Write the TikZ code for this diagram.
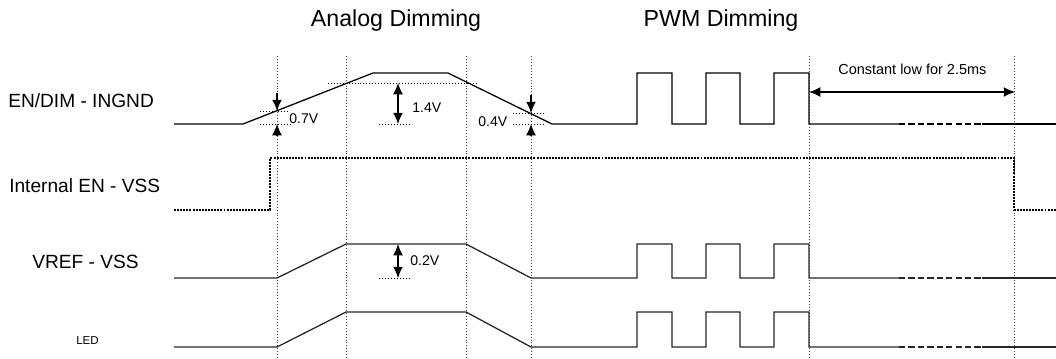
\documentclass[tikz,border=0pt]{standalone}
\usepackage{fontspec}
\setmainfont{Liberation Sans}
\usetikzlibrary{arrows.meta,positioning}

\begin{document}
\begin{tikzpicture}[x=0.025cm,y=-0.025cm,
  sig/.style={line width=0.9pt,line join=miter},
  sigb/.style={sig,black!85},
  gap/.style={line width=0.9pt,dash pattern=on 4.5pt off 2.2pt},
  enline/.style={line width=0.8pt,dash pattern=on 1.4pt off 0.8pt},
  gridline/.style={black!75,line width=0.55pt,dash pattern=on 0.7pt off 1.4pt},
  guide/.style={black,line width=0.55pt,dash pattern=on 0.7pt off 1.4pt},
  dim/.style={line width=0.8pt,-{Latex[length=8pt,width=7pt]}},
  dimboth/.style={line width=0.8pt,{Latex[length=8pt,width=7pt]}-{Latex[length=8pt,width=7pt]}},
  title/.style={font=\fontsize{16.5}{19}\selectfont,anchor=base},
  signame/.style={font=\fontsize{13.6}{16}\selectfont,anchor=base west,inner sep=0pt},
  volt/.style={font=\fontsize{10}{12}\selectfont,anchor=base west,inner sep=0pt}]
  \useasboundingbox (0,0) rectangle (1056,358);

  \node[title] (analog) at (396,26) {Analog Dimming};
  \node[title] (pwm) at (721,26) {PWM Dimming};
  \node[signame] (endim) at (8,107) {EN/DIM - INGND};
  \node[signame] (inten) at (9,192) {Internal EN - VSS};
  \node[signame] (vref) at (32,268) {VREF - VSS};
  \node[font=\fontsize{8.2}{10}\selectfont,anchor=base west,inner sep=0pt] (led) at (76,344) {LED};

  \path[gridline]
    (277,56) edge (277,358)
    (346,56) edge (346,358)
    (466,56) edge (466,358)
    (531,56) edge (531,358)
    (809,56) edge (809,358)
    (1014,56) edge (1014,358);

  \draw[sig] (174,124) -- (243,124) -- (373,73) -- (448,73) -- (552,124) -- (637,124)
    -- (637,73) -- (672,73) -- (672,124) -- (706,124) -- (706,73) -- (740,73) -- (740,124)
    -- (774,124) -- (774,73) -- (809,73) -- (809,124) -- (899,124);
  \draw[gap] (899,124) -- (982,124);
  \draw[sig] (982,124) -- (1056,124);

  \draw[enline] (174,210) -- (270,210) -- (270,158) -- (1014,158) -- (1014,210) -- (1056,210);

  \draw[sigb] (174,278) -- (277,278) -- (346,244) -- (466,244) -- (531,278) -- (637,278)
    -- (637,244) -- (672,244) -- (672,278) -- (706,278) -- (706,244) -- (740,244) -- (740,278)
    -- (774,278) -- (774,244) -- (809,244) -- (809,278) -- (899,278);
  \draw[gap,black!85] (899,278) -- (982,278);
  \draw[sigb] (982,278) -- (1056,278);

  \draw[sigb] (174,347) -- (277,347) -- (346,312) -- (466,312) -- (531,347) -- (637,347)
    -- (637,312) -- (672,312) -- (672,347) -- (706,347) -- (706,312) -- (740,312) -- (740,347)
    -- (774,347) -- (774,312) -- (809,312) -- (809,347) -- (899,347);
  \draw[gap,black!85] (899,347) -- (982,347);
  \draw[sigb] (982,347) -- (1056,347);

  \path[guide]
    (260,111) edge (287,111)
    (260,124) edge (290,124)
    (328,83) edge (477,83)
    (379,124) edge (411,124)
    (513,113) edge (545,113)
    (513,124) edge (545,124)
    (379,278) edge (411,278);

  \coordinate (a07) at (277,93);
  \coordinate (b07) at (277,111);
  \coordinate (c07) at (277,136);
  \coordinate (d07) at (277,124);
  \coordinate (a14) at (398,83);
  \coordinate (b14) at (398,124);
  \coordinate (a04) at (531,95);
  \coordinate (b04) at (531,113);
  \coordinate (c04) at (531,136);
  \coordinate (d04) at (531,124);
  \coordinate (a02) at (398,244);
  \coordinate (b02) at (398,278);
  \coordinate (lowstart) at (809,92);
  \coordinate (lowend) at (1015,92);
  \path[dim]
    (a07) edge (b07)
    (c07) edge (d07)
    (a04) edge (b04)
    (c04) edge (d04);
  \path[dimboth]
    (a14) edge (b14)
    (a02) edge (b02)
    (lowstart) edge (lowend);

  \node[volt] (v07) at (289,123) {0.7V};
  \node[volt] (v14) at (412,112) {1.4V};
  \node[volt] (v04) at (478,126) {0.4V};
  \node[volt] (v02) at (410,265) {0.2V};
  \node[font=\fontsize{10.3}{12}\selectfont,anchor=base west,inner sep=0pt] (constlow) at (838,74) {Constant low for 2.5ms};
\end{tikzpicture}
\end{document}
